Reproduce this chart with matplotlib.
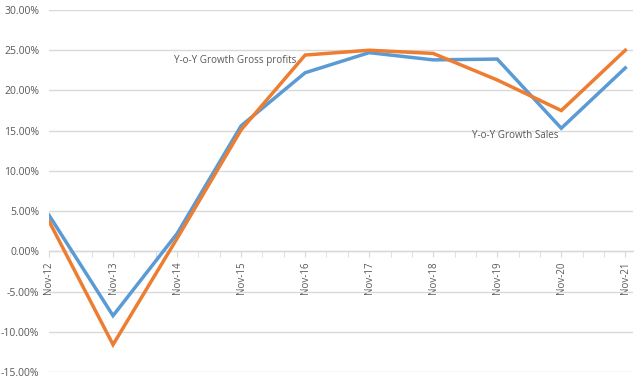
import matplotlib
matplotlib.use("Agg")
import matplotlib.pyplot as plt
import numpy as np
from matplotlib.ticker import FuncFormatter, MultipleLocator

plt.rcParams['font.family'] = ['Open Sans', 'DejaVu Sans']

periods = ["Nov-12", "Nov-13", "Nov-14", "Nov-15", "Nov-16",
           "Nov-17", "Nov-18", "Nov-19", "Nov-20", "Nov-21"]
sales_growth = [4.5, -8.0, 2.2, 15.6, 22.2, 24.7, 23.8, 23.9, 15.3, 22.8]
gross_profit_growth = [3.75, -11.6, 1.6, 15.1, 24.4, 25.0, 24.6, 21.3, 17.5, 25.0]

blue = "#5B9BD5"
orange = "#ED7D31"
grid_c = "#D9D9D9"
text_c = "#595959"

fig = plt.figure(figsize=(6.4, 3.78), dpi=100)
ax = fig.add_axes([49/640, 1-372/378, (633-49)/640, (372-10)/378])

x = np.arange(len(periods))
ax.plot(x, sales_growth, color=blue, lw=2.5, solid_joinstyle='miter', zorder=3)
ax.plot(x, gross_profit_growth, color=orange, lw=2.5, solid_joinstyle='miter', zorder=4)

ax.set_ylim(-15, 30)
ax.set_xlim(0, len(periods) - 1 + 0.12)
ax.yaxis.set_major_locator(MultipleLocator(5))
ax.yaxis.set_major_formatter(FuncFormatter(lambda v, p: f"{v:.2f}%"))
ax.grid(axis='y', color=grid_c, lw=1)
ax.set_axisbelow(True)

for s in ['left', 'right', 'top']:
    ax.spines[s].set_visible(False)
ax.spines['bottom'].set_position(('data', 0))
ax.spines['bottom'].set_color(grid_c)
ax.spines['bottom'].set_linewidth(1)

ax.set_xticks(x)
ax.set_xticklabels(periods, rotation=90, color=text_c, fontsize=7)
ax.set_xticks(np.arange(0, len(periods) - 1 + 0.01, 1/3), minor=True)
ax.tick_params(axis='x', which='both', length=4, color=grid_c, direction='out', pad=3)
ax.tick_params(axis='y', length=0, labelsize=7.5, labelcolor=text_c, pad=7)

ax.text(174/640, 1-61/378, "Y-o-Y Growth Gross profits", transform=fig.transFigure,
        fontsize=7.1, color=text_c, va='center', ha='left')
ax.text(472/640, 1-135/378, "Y-o-Y Growth Sales", transform=fig.transFigure,
        fontsize=7.1, color=text_c, va='center', ha='left')

fig.savefig("out.png", dpi=100, facecolor='white')
